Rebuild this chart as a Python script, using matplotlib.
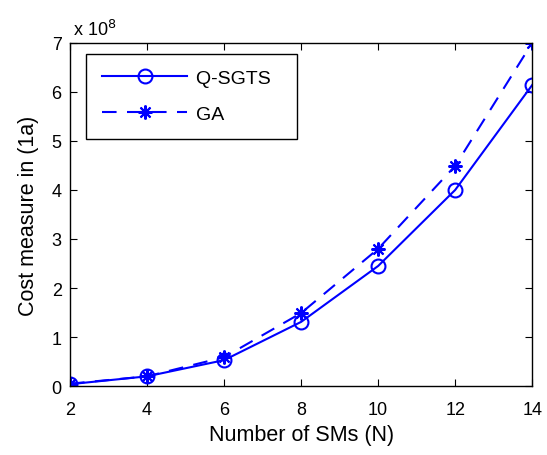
import matplotlib
matplotlib.use("Agg")
import matplotlib.pyplot as plt

plt.rcParams['font.family'] = ['Liberation Sans', 'DejaVu Sans']

n = [2, 4, 6, 8, 10, 12, 14]
qsgts = [0.04, 0.2, 0.53, 1.31, 2.45, 4.0, 6.14]
ga = [0.05, 0.2, 0.59, 1.49, 2.8, 4.49, 7.0]

fig = plt.figure(figsize=(5.47, 4.56), dpi=100)
ax = fig.add_axes([0.128, 0.151, 0.845, 0.753])

ax.plot(n, qsgts, '-o', color='#0000ff', lw=1.5, ms=10, mfc='none', mew=1.5, label='Q-SGTS  ')
ax.plot(n, ga, '--', marker=(8, 2, 0), color='#0000ff', lw=1.5, ms=10, mew=1.5,
        dashes=(7, 5), label='GA')

ax.set_xlim(2, 14)
ax.set_ylim(0, 7)
ax.set_xticks(n)
ax.set_yticks(range(8))
ax.tick_params(direction='in', top=True, right=True, labelsize=13, length=5)
ax.tick_params(axis='x', pad=11)
ax.tick_params(axis='y', pad=6)
for s in ax.spines.values():
    s.set_linewidth(1.0)

ax.set_xlabel('Number of SMs (N)', fontsize=15.5, labelpad=4)
ax.set_ylabel('Cost measure in (1a)', fontsize=15.5, labelpad=9)
ax.text(0.007, 1.012, r'x 10$^8$', transform=ax.transAxes, fontsize=13, ha='left', va='bottom')

leg = ax.legend(loc='upper left', bbox_to_anchor=(0.035, 0.968), fontsize=14, fancybox=False,
                edgecolor='black', framealpha=1, handlelength=4.4, handletextpad=0.46,
                borderpad=0.8, labelspacing=0.95, borderaxespad=0)
leg.get_frame().set_linewidth(1.0)

fig.savefig('out.png', dpi=100)
